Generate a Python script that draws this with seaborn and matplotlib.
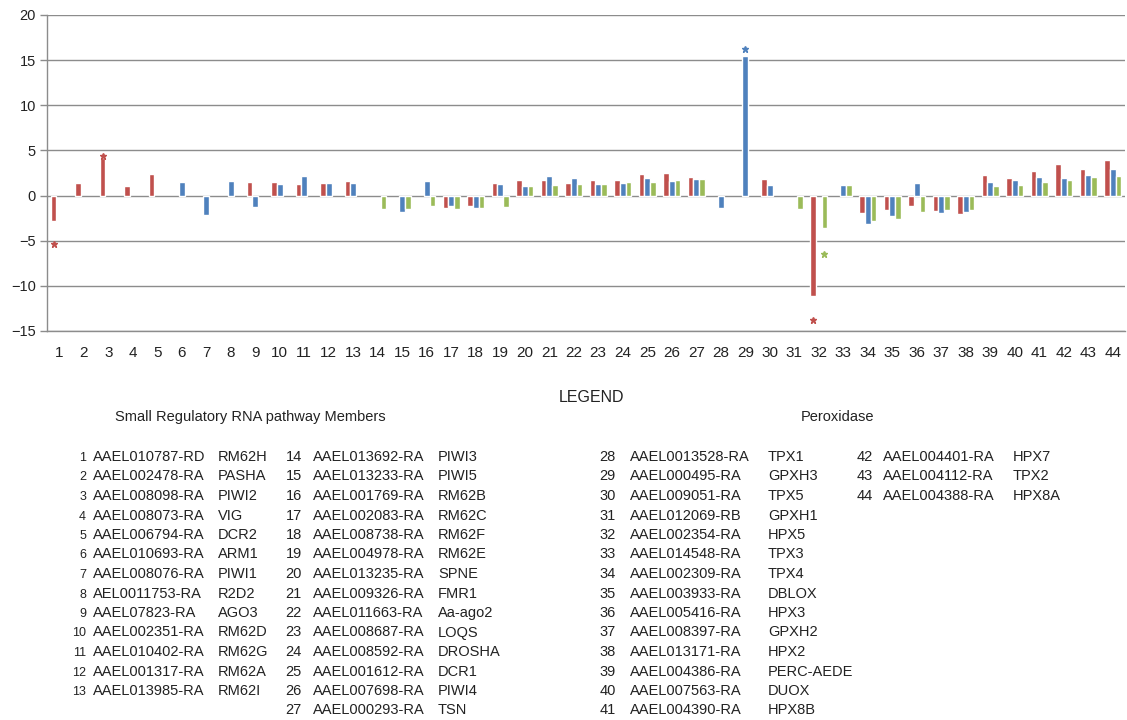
import numpy as np
import pandas as pd
import matplotlib
matplotlib.use("Agg")
import matplotlib.pyplot as plt
import seaborn as sns

sns.set_theme(style="white")
plt.rcParams["font.family"] = ["Liberation Sans", "DejaVu Sans"]

nan = np.nan

# Gene numbers shown on the x axis
genes = [str(i) for i in range(1, 45)]

# Fold-change values for the three conditions (NaN = no bar)
series_red = [-2.84, 1.40, 4.17, 1.10, 2.36, nan, nan, nan, 1.48, 1.48,
              1.29, 1.37, 1.59, nan, nan, nan, -1.37, -1.10, 1.37, 1.70,
              1.73, 1.37, 1.70, 1.77, 2.36, 2.47, 2.03, nan, nan, 1.85,
              nan, -11.07, nan, -1.92, -1.59, -1.18, -1.66, -2.03, 2.32, 1.92,
              2.77, 3.47, 2.92, 3.91]
series_blue = [nan, nan, nan, nan, nan, 1.51, -2.10, 1.66, -1.29, 1.33,
               2.18, 1.44, 1.37, nan, -1.85, 1.59, -1.10, -1.37, 1.29, 1.03,
               2.14, 1.92, 1.29, 1.44, 1.92, 1.62, 1.88, -1.33, 15.50, 1.22,
               nan, nan, 1.14, -3.14, -2.29, 1.37, -1.92, -1.81, 1.55, 1.70,
               2.03, 1.96, 2.29, 2.92]
series_green = [nan, nan, nan, nan, nan, nan, nan, nan, nan, nan,
                nan, nan, nan, -1.44, -1.44, -1.18, -1.48, -1.33, -1.22, 1.10,
                1.14, 1.25, 1.29, 1.48, 1.48, 1.73, 1.81, nan, nan, nan,
                -1.51, -3.58, 1.14, -2.84, -2.62, -1.85, -1.62, -1.55, 1.07, 1.22,
                1.51, 1.70, 2.10, 2.14]

series_names = ["Series1", "Series2", "Series3"]
series_colors = ["#C0504D", "#4F81BD", "#9BBB59"]

# Significance asterisks: (gene, series index, y position)
sig_genes = ["1", "3", "29", "32", "32"]
sig_series = [0, 0, 1, 0, 2]
sig_y = [-5.4, 4.35, 16.2, -13.8, -6.5]

# Gene annotation tables
srna_ids = ["AAEL010787-RD", "AAEL002478-RA", "AAEL008098-RA", "AAEL008073-RA",
            "AAEL006794-RA", "AAEL010693-RA", "AAEL008076-RA", "AEL0011753-RA",
            "AAEL07823-RA", "AAEL002351-RA", "AAEL010402-RA", "AAEL001317-RA",
            "AAEL013985-RA", "AAEL013692-RA", "AAEL013233-RA", "AAEL001769-RA",
            "AAEL002083-RA", "AAEL008738-RA", "AAEL004978-RA", "AAEL013235-RA",
            "AAEL009326-RA", "AAEL011663-RA", "AAEL008687-RA", "AAEL008592-RA",
            "AAEL001612-RA", "AAEL007698-RA", "AAEL000293-RA"]
srna_names = ["RM62H", "PASHA", "PIWI2", "VIG", "DCR2", "ARM1", "PIWI1", "R2D2",
              "AGO3", "RM62D", "RM62G", "RM62A", "RM62I", "PIWI3", "PIWI5",
              "RM62B", "RM62C", "RM62F", "RM62E", "SPNE", "FMR1", "Aa-ago2",
              "LOQS", "DROSHA", "DCR1", "PIWI4", "TSN"]
perox_ids = ["AAEL0013528-RA", "AAEL000495-RA", "AAEL009051-RA", "AAEL012069-RB",
             "AAEL002354-RA", "AAEL014548-RA", "AAEL002309-RA", "AAEL003933-RA",
             "AAEL005416-RA", "AAEL008397-RA", "AAEL013171-RA", "AAEL004386-RA",
             "AAEL007563-RA", "AAEL004390-RA", "AAEL004401-RA", "AAEL004112-RA",
             "AAEL004388-RA"]
perox_names = ["TPX1", "GPXH3", "TPX5", "GPXH1", "HPX5", "TPX3", "TPX4", "DBLOX",
               "HPX3", "GPXH2", "HPX2", "PERC-AEDE", "DUOX", "HPX8B", "HPX7",
               "TPX2", "HPX8A"]

# ---- long-form data ----
rows = []
for name, vals in zip(series_names, [series_red, series_blue, series_green]):
    for g, v in zip(genes, vals):
        rows.append({"gene": g, "series": name, "value": v})
df = pd.DataFrame(rows).dropna()

W, H = 1127, 720
fig = plt.figure(figsize=(W / 100, H / 100), dpi=100)
ax = fig.add_axes([47 / W, 1 - 331 / H, 1078 / W, 316 / H])

bar_width = 0.7
sns.barplot(data=df, x="gene", y="value", hue="series", order=genes,
            hue_order=series_names, palette=series_colors, width=bar_width,
            saturation=1, errorbar=None, legend=False, ax=ax)

ax.set_ylim(-15, 20)
ax.set_xlim(-0.5, len(genes) - 0.5)
ax.set_yticks(np.arange(-15, 21, 5))
ax.yaxis.grid(True, color="#8c8c8c", linewidth=1.0)
ax.set_axisbelow(True)
ax.set_xlabel("")
ax.set_ylabel("")
for side in ["top", "right"]:
    ax.spines[side].set_visible(False)
for side in ["left", "bottom"]:
    ax.spines[side].set_color("#8c8c8c")
    ax.spines[side].set_linewidth(1.0)
ax.tick_params(axis="y", which="both", left=True, length=5, width=1,
               color="#8c8c8c", labelsize=10.5, pad=3, labelcolor="#222222")
ax.tick_params(axis="x", bottom=False, labelsize=11, pad=5, labelcolor="#222222")

# Significance asterisks above/below the flagged bars
step = bar_width / len(series_names)
for g, s, y in zip(sig_genes, sig_series, sig_y):
    x = genes.index(g) + (s - 1) * step
    ax.plot(x, y, marker="*", markersize=4.5, color=series_colors[s],
            linestyle="none", clip_on=False)


# ---- gene key below the chart ----
def px(x, y):
    return x / W, 1 - y / H


fig.text(*px(591, 398), "LEGEND", ha="center", va="center", fontsize=11.5, color="#222222")
fig.text(*px(250, 417), "Small Regulatory RNA pathway Members", ha="center",
         va="center", fontsize=10.5, color="#222222")
fig.text(*px(838, 417), "Peroxidase", ha="center", va="center",
         fontsize=10.5, color="#222222")

row0, dy = 457, 19.5
columns = [  # (first gene, last gene, number right edge, id x, name x)
    (1, 13, 86, 93, 218),
    (14, 27, 302, 313, 438),
    (28, 41, 616, 630, 768),
    (42, 44, 873, 883, 1013),
]
all_ids = srna_ids + perox_ids
all_names = srna_names + perox_names
for first, last, xn, xi, xm in columns:
    for r, n in enumerate(range(first, last + 1)):
        y = row0 + r * dy
        fs_num = 9 if n <= 13 else 10.5
        fig.text(*px(xn, y + (1 if n <= 13 else 0)), str(n), ha="right",
                 va="center", fontsize=fs_num, color="#222222")
        fig.text(*px(xi, y), all_ids[n - 1], ha="left", va="center",
                 fontsize=10.5, color="#222222")
        fig.text(*px(xm, y), all_names[n - 1], ha="left", va="center",
                 fontsize=10.5, color="#222222")

fig.savefig("out.png", dpi=100, facecolor="white")
